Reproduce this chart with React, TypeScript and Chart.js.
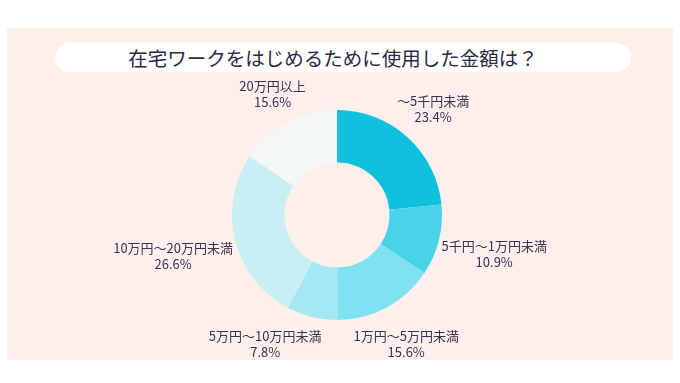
import React, { useEffect, useRef } from "react";
import { Chart, registerables } from "chart.js";

Chart.register(...registerables);

const title = "在宅ワークをはじめるために使用した金額は？";
const categories = [
  "～5千円未満",
  "5千円～1万円未満",
  "1万円～5万円未満",
  "5万円～10万円未満",
  "10万円～20万円未満",
  "20万円以上",
];
const values = [23.4, 10.9, 15.6, 7.8, 26.6, 15.6];
const percentLabels = ["23.4%", "10.9%", "15.6%", "7.8%", "26.6%", "15.6%"];
const colors = ["#10c1de", "#48d3e8", "#80e1f1", "#a4e8f3", "#c7eff4", "#f3f7f6"];

const FONT = '"Noto Sans CJK JP", "Noto Sans", sans-serif';
const LABEL_COLOR = "#3a3352";

const outLabels = {
  id: "outLabels",
  afterDatasetsDraw(chart: any) {
    const ctx = chart.ctx;
    const meta = chart.getDatasetMeta(0);
    const fontSize = 13;
    const lineH = 16;
    ctx.save();
    ctx.font = `400 ${fontSize}px ${FONT}`;
    const boxes: any[] = [];
    meta.data.forEach((arc: any, i: number) => {
      const p = arc.getProps(["x", "y", "startAngle", "endAngle", "outerRadius"], true);
      const mid = (p.startAngle + p.endAngle) / 2;
      const dx = Math.cos(mid);
      const dy = Math.sin(mid);
      const lines = [categories[i], percentLabels[i]];
      const w = Math.max(...lines.map((l) => ctx.measureText(l).width));
      const h = lineH * 2;
      const ext = Math.abs(dx) * (w / 2) + Math.abs(dy) * (h / 2);
      const d = p.outerRadius + 2 + ext;
      boxes.push({ cx: p.x + dx * d, cy: p.y + dy * d, w, h, lines });
    });
    // simple collision resolution
    for (let i = 0; i < boxes.length; i++) {
      for (let j = 0; j < i; j++) {
        const a = boxes[i];
        const b = boxes[j];
        const ox = Math.abs(a.cx - b.cx) < (a.w + b.w) / 2;
        const oy = Math.abs(a.cy - b.cy) < (a.h + b.h) / 2;
        if (ox && oy) {
          if (a.cx < b.cx) {
            a.cx = b.cx - b.w / 2 - 32 - a.w / 2;
          } else {
            a.cx = b.cx + b.w / 2 + 32 + a.w / 2;
          }
          a.cy = b.cy;
        }
      }
    }
    ctx.fillStyle = LABEL_COLOR;
    ctx.textAlign = "center";
    ctx.textBaseline = "middle";
    boxes.forEach((b) => {
      b.lines.forEach((l: string, k: number) => {
        ctx.fillText(l, b.cx, b.cy - lineH / 2 + k * lineH);
      });
    });
    ctx.restore();
  },
};

function DoughnutChart() {
  const ref = useRef<HTMLCanvasElement | null>(null);
  useEffect(() => {
    if (!ref.current) return;
    const chart = new Chart(ref.current, {
      type: "doughnut",
      data: {
        labels: categories,
        datasets: [
          {
            data: values,
            backgroundColor: colors,
            borderWidth: 0,
          },
        ],
      },
      options: {
        animation: false,
        responsive: false,
        maintainAspectRatio: false,
        cutout: "50%",
        layout: { padding: { top: 40, bottom: 40, left: 0, right: 0 } },
        plugins: {
          legend: { display: false },
          tooltip: { enabled: false },
        },
      },
      plugins: [outLabels],
    });
    return () => chart.destroy();
  }, []);
  return (
    <canvas
      ref={ref}
      width={600}
      height={290}
      style={{ position: "absolute", left: 37, top: 70, width: 600, height: 290 }}
    />
  );
}

export default function App() {
  return (
    <div
      style={{
        position: "fixed",
        left: 0,
        top: 0,
        width: 680,
        height: 383,
        background: "#ffffff",
        overflow: "hidden",
      }}
    >
      <div
        style={{
          position: "absolute",
          left: 7,
          top: 28,
          width: 666,
          height: 332,
          background: "#fdefeb",
        }}
      />
      <div
        style={{
          position: "absolute",
          left: 55,
          top: 43,
          width: 576,
          height: 29,
          borderRadius: 14.5,
          background: "#ffffff",
        }}
      />
      <div
        style={{
          position: "absolute",
          left: 55,
          top: 43,
          width: 556,
          height: 29,
          lineHeight: "29px",
          textAlign: "center",
          fontFamily: FONT,
          fontSize: 19.5,
          color: "#2a2946",
          whiteSpace: "nowrap",
        }}
      >
        {title}
      </div>
      <DoughnutChart />
    </div>
  );
}
